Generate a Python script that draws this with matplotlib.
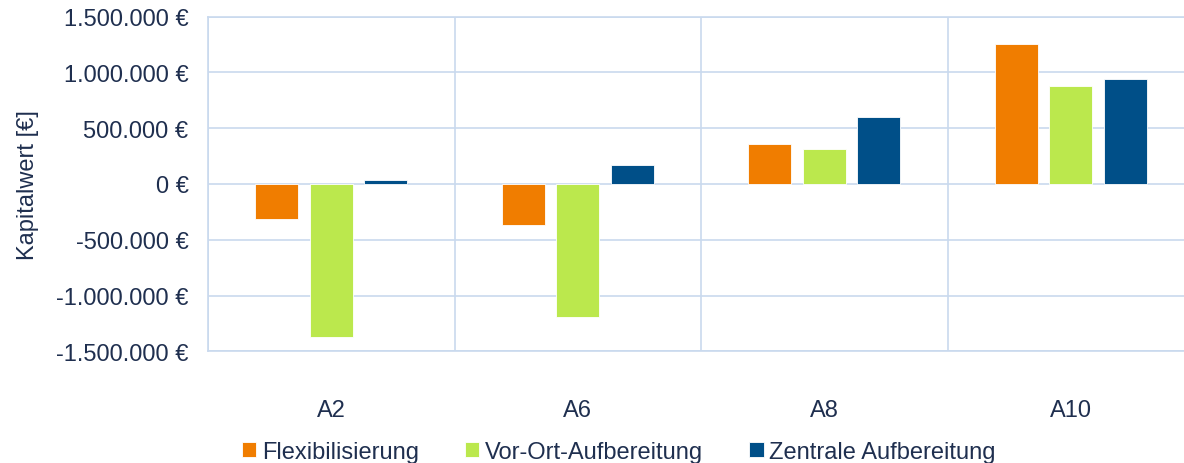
import matplotlib.pyplot as plt
import matplotlib.ticker as mticker
import numpy as np

plt.rcParams['font.family'] = ['Liberation Sans', 'DejaVu Sans']

# data
categories = ['A2', 'A6', 'A8', 'A10']
series_names = ['Flexibilisierung', 'Vor-Ort-Aufbereitung', 'Zentrale Aufbereitung']
flexibilisierung = [-311000, -368000, 358000, 1257000]
vor_ort = [-1374000, -1189000, 317000, 881000]
zentrale = [35000, 172000, 597000, 941000]

colors = ['#F07D00', '#BBE84D', '#004F88']
text_color = '#1F2F4F'
grid_color = '#C9D9EE'
fs = 17

fig = plt.figure(figsize=(11.84, 4.64), dpi=100)
ax = fig.add_axes([208 / 1184, (464 - 352.3) / 464, 986 / 1184, (352.3 - 17.7) / 464])

x = np.arange(len(categories))
step = 0.221
width = 0.174
for i, (vals, name) in enumerate(zip([flexibilisierung, vor_ort, zentrale], series_names)):
    ax.bar(x + (i - 1) * step, vals, width=width, color=colors[i], label=name,
           edgecolor='white', linewidth=0.6, zorder=3)

ax.set_xlim(-0.5, len(categories) - 0.5)
ax.set_ylim(-1500000, 1500000)
ax.yaxis.set_major_locator(mticker.MultipleLocator(500000))


def euro(v, pos):
    s = f'{abs(int(round(v))):,}'.replace(',', '.')
    return ('-' if v < 0 else '') + s + ' €'


ax.yaxis.set_major_formatter(mticker.FuncFormatter(euro))
ax.set_xticks(x)
ax.set_xticklabels(categories)
ax.set_xticks(np.arange(-0.5, len(categories)), minor=True)

ax.grid(axis='y', which='major', color=grid_color, linewidth=1.2, zorder=0)
ax.grid(axis='x', which='minor', color=grid_color, linewidth=1.2, zorder=0)
for sp in ax.spines.values():
    sp.set_color(grid_color)
    sp.set_linewidth(1.2)

ax.tick_params(axis='both', which='both', length=0, colors=text_color, labelsize=fs)
ax.tick_params(axis='x', which='major', pad=34)
ax.tick_params(axis='y', pad=14)

ax.set_ylabel('Kapitalwert [€]', color=text_color, fontsize=fs, labelpad=12)

leg = fig.legend(loc='center', bbox_to_anchor=(619 / 1184, 1 - 453 / 464), ncol=3,
                 frameon=False, fontsize=fs, handlelength=0.6, handleheight=0.6,
                 handletextpad=0.25, columnspacing=1.95, labelcolor=text_color)

fig.savefig('out.png', dpi=100)
